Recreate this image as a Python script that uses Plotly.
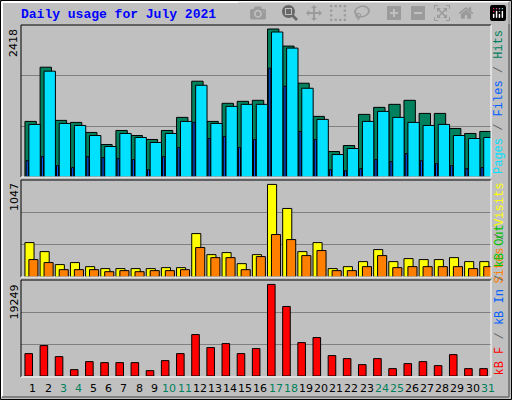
import plotly.graph_objects as go

days = list(range(1, 32))
hits = [908,1794,925,892,728,531,760,678,613,760,974,1565,908,1204,1236,1253,2418,2139,1532,990,416,514,1023,1138,1187,1253,1039,1039,793,711,744]
files = [859,1729,875,842,678,498,711,646,564,711,908,1499,875,1154,1187,1187,2369,2106,1450,941,367,465,908,1072,974,892,842,859,678,629,646]
pages = [268,334,186,153,334,317,301,284,120,334,481,892,629,662,481,613,1778,1483,744,613,120,104,137,284,252,383,268,219,186,137,153]
visits = [389,287,140,163,117,95,95,95,95,106,106,491,253,276,151,253,1047,775,287,389,95,117,174,310,174,208,197,197,219,174,174]
sites = [197,163,83,83,83,60,72,60,72,72,83,333,219,219,83,231,480,423,242,299,72,72,117,242,106,117,117,117,117,95,117]
kbytes = [4707,6393,4075,1335,3021,2810,2810,2810,1124,3232,4707,8711,5971,6814,4707,5761,19249,14612,7025,8079,4285,3653,2389,3653,1546,2599,3021,2178,4496,1546,1546]
weekend = [3,4,10,11,17,18,24,25,31]
max_labels = ["2418", "1047", "19249"]

W, H = 512, 400
L, R, T, B = 21, 491, 25, 379
def px(x): return (x - L) / (R - L)
def py(y): return (B - y) / (B - T)

fig = go.Figure()
ol = dict(color="black", width=1)
fig.add_bar(x=days, y=hits, width=0.75, offset=-0.53, marker=dict(color="#00805c", line=ol), yaxis="y3")
fig.add_bar(x=days, y=files, width=0.75, offset=-0.27, marker=dict(color="#00e0ff", line=ol), yaxis="y3")
fig.add_bar(x=days, y=pages, width=0.14, offset=-0.45, marker=dict(color="#0060ff", line=ol), yaxis="y3")
fig.add_bar(x=days, y=visits, width=0.6, offset=-0.53, marker=dict(color="#ffff00", line=ol), yaxis="y2")
fig.add_bar(x=days, y=sites, width=0.6, offset=-0.27, marker=dict(color="#ff8000", line=ol), yaxis="y2")
fig.add_bar(x=days, y=kbytes, width=0.5, offset=-0.53, marker=dict(color="#ff0000", line=ol), yaxis="y")

def yax(dom, top):
    return dict(domain=dom, range=[0, top], tickvals=[top/3, 2*top/3], showticklabels=False,
                showgrid=True, gridcolor="#808080", gridwidth=1, zeroline=False, ticks="", fixedrange=True)

fig.update_layout(
    width=W, height=H, margin=dict(l=L, r=W-R, t=T, b=H-B),
    paper_bgcolor="#c0c0c0", plot_bgcolor="#c0c0c0", showlegend=False, barmode="overlay",
    xaxis=dict(range=[0.21, 31.21], showticklabels=False, showgrid=False, zeroline=False, ticks=""),
    yaxis=yax([py(376), py(280)], 19249*95.7/91.3),
    yaxis2=dict(**yax([py(277), py(180)], 1047*96.7/92.3), anchor="x"),
    yaxis3=dict(**yax([py(177), 1], 2418*152/148), anchor="x"),
)

shapes = []
def line(x0, y0, x1, y1, c, w=1):
    shapes.append(dict(type="line", xref="paper", yref="paper", x0=px(x0), y0=py(y0), x1=px(x1), y1=py(y1),
                       line=dict(color=c, width=w)))
line(0.5, 0.5, 511.5, 0.5, "black"); line(0.5, 0.5, 0.5, 399.5, "black")
line(511.5, 0.5, 511.5, 399.5, "black"); line(0.5, 399.5, 511.5, 399.5, "black")
line(2, 2, 509, 2, "white", 2); line(2, 2, 2, 397, "white", 2)
line(509, 2, 509, 397, "#808080", 2); line(2, 397, 509, 397, "#808080", 2)
for (t, b) in [(25, 177), (180, 277), (280, 377)]:
    line(L, t, R, t, "black"); line(L, t, L, b, "black")
    line(R, t, R, b, "white"); line(L, b, R, b, "white")
fig.update_layout(shapes=shapes)

ann = []
ann.append(dict(text="<b>Daily usage for July 2021</b>", x=px(19), y=py(15), xref="paper", yref="paper",
                xanchor="left", yanchor="middle", showarrow=False,
                font=dict(family="Liberation Mono", size=13, color="#0000ff")))
for lab, ytop in zip(max_labels, [27, 181, 283]):
    ann.append(dict(text=lab, x=px(14), y=py(ytop), xref="paper", yref="paper", textangle=-90,
                    xanchor="center", yanchor="top", showarrow=False,
                    font=dict(family="DejaVu Sans", size=11, color="black")))
for d in days:
    ann.append(dict(text=str(d), x=d, y=py(388), xref="x", yref="paper", showarrow=False,
                    xanchor="center", yanchor="middle",
                    font=dict(family="DejaVu Sans", size=11, color="#00805c" if d in weekend else "black")))
sl = "<span style='color:#606060'> / </span>"
legends = [
    ("<span style='color:#00e0ff'>Pages</span>" + sl + "<span style='color:#0060ff'>Files</span>" + sl + "<span style='color:#00805c'>Hits</span>", 28),
    ("<span style='color:#ff8000'>Sites</span>" + sl + "<span style='color:#ffff00'>Visits</span>", 181),
]
for txt, yt in legends:
    ann.append(dict(text=txt, x=px(499), y=py(yt), xref="paper", yref="paper", textangle=-90,
                    xanchor="center", yanchor="top", showarrow=False,
                    font=dict(family="Liberation Mono", size=12)))
ann.append(dict(text="<span style='color:#ff0000'>kB F</span>" + sl + "<span style='color:#0060ff'>kB In</span>" + sl + "<span style='color:#00c000'>kB Out</span>",
                x=px(499), y=py(378), xref="paper", yref="paper", textangle=-90,
                xanchor="center", yanchor="bottom", showarrow=False,
                font=dict(family="Liberation Mono", size=12)))
fig.update_layout(annotations=ann)
fig.write_html("out.html", post_script="document.body.style.margin='0';document.body.style.overflow='hidden';")
